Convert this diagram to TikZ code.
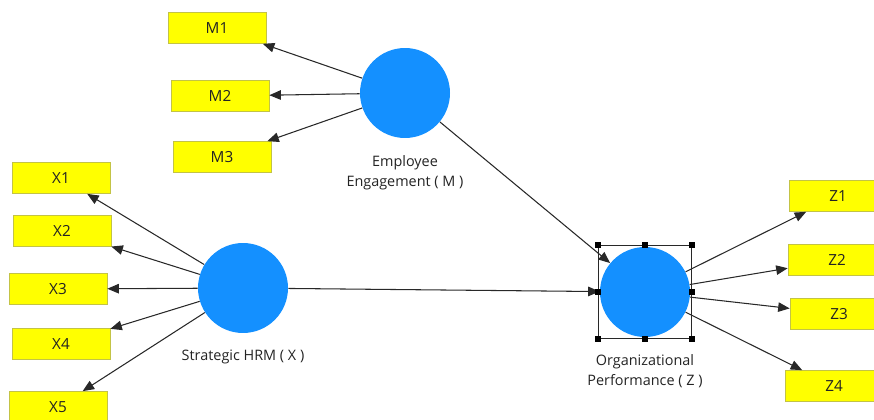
\documentclass[tikz,border=0pt]{standalone}
\usepackage{fontspec}
\setmainfont{Open Sans}
\usetikzlibrary{arrows.meta,positioning}

\definecolor{latentblue}{RGB}{20,144,255}
\definecolor{itemyellow}{RGB}{255,255,0}
\definecolor{itemborder}{RGB}{195,195,70}
\definecolor{linegray}{RGB}{40,40,40}
\definecolor{textgray}{RGB}{35,35,35}

\tikzset{
  latent/.style={circle, fill=latentblue, minimum size=1.8cm, inner sep=0pt},
  item/.style={rectangle, draw=itemborder, line width=0.4pt, fill=itemyellow,
    minimum width=1.96cm, minimum height=0.62cm, inner sep=0pt,
    text=textgray, font=\fontsize{8.7}{10}\selectfont},
  lbl/.style={align=center, text=textgray, font=\fontsize{8.2}{11.4}\selectfont},
  load/.style={draw=linegray, line width=0.6pt, -{Triangle[length=2.3mm,width=1.9mm]}},
  handle/.style={fill=black, minimum size=0.12cm, inner sep=0pt}
}

\begin{document}
\begin{tikzpicture}[x=0.02cm,y=-0.02cm]
    \useasboundingbox (0,0) rectangle (874,419);
    \clip (0,0) rectangle (874,419);

    % latent variables
    \node[latent] (M) at (405,93) {};
    \node[latent] (X) at (243,288) {};
    \node[latent] (Z) at (645,292) {};

    % labels
    \node[lbl] at (405,173) {Employee\\Engagement ( M )};
    \node[lbl] at (243,357) {Strategic HRM ( X )};
    \node[lbl] at (645,371) {Organizational\\Performance ( Z )};

    % indicators
    \node[item] (M1) at (217,28) {M1};
    \node[item] (M2) at (220,96) {M2};
    \node[item] (M3) at (222,157) {M3};

    \node[item] (X1) at (61,178) {X1};
    \node[item] (X2) at (62,231) {X2};
    \node[item] (X3) at (58,289) {X3};
    \node[item] (X4) at (61,344) {X4};
    \node[item] (X5) at (58,407) {X5};

    \node[item] (Z1) at (838,196) {Z1};
    \node[item] (Z2) at (837,260) {Z2};
    \node[item] (Z3) at (839,314) {Z3};
    \node[item] (Z4) at (834,386) {Z4};

    % outer loadings
    \foreach \i in {1,2,3} \draw[load] (M) -- (M\i);
    \foreach \i in {1,...,5} \draw[load] (X) -- (X\i);
    \foreach \i in {1,...,4} \draw[load] (Z) -- (Z\i);

    % structural paths
    \draw[load] (M) -- (Z);
    \draw[load] (X) -- (Z);

    % selection frame
    \node[draw=linegray, line width=0.6pt, minimum size=1.86cm, inner sep=0pt] (Zsel) at (Z) {};
    \foreach \a in {north west,north,north east,east,south east,south,south west,west}
      \node[handle] at (Zsel.\a) {};
\end{tikzpicture}
\end{document}
